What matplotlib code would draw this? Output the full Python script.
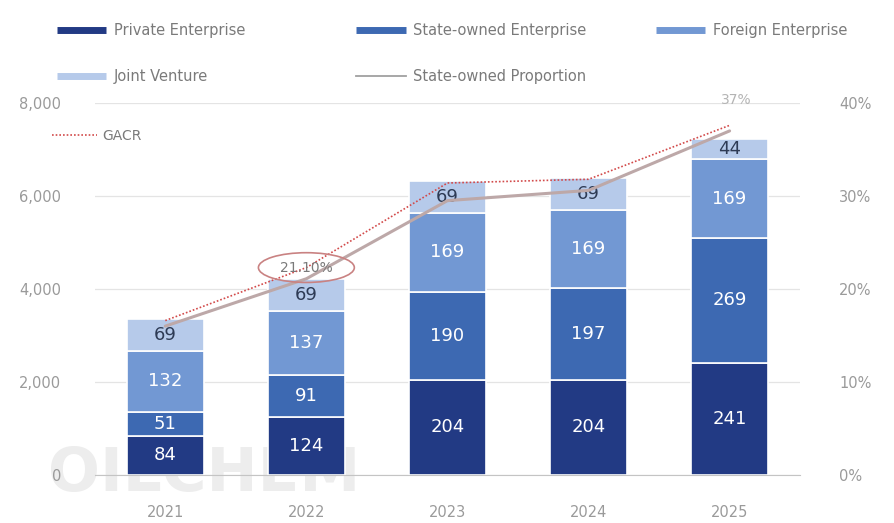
import numpy as np
import matplotlib
matplotlib.use("Agg")
import matplotlib.pyplot as plt
from matplotlib.lines import Line2D
from matplotlib.patches import Ellipse

# Data (segment labels, in hundreds; bars drawn at label x 10 on the left axis)
years = ["2021", "2022", "2023", "2024", "2025"]
private = [84, 124, 204, 204, 241]
state_owned = [51, 91, 190, 197, 269]
foreign = [132, 137, 169, 169, 169]
joint_venture = [69, 69, 69, 69, 44]
state_share = [16.0, 21.1, 29.5, 30.6, 37.0]      # % (right axis)
gacr = [16.6, 22.3, 31.4, 31.8, 37.6]             # % (right axis)
left_ticks = [0, 2000, 4000, 6000, 8000]
right_ticks = [0, 10, 20, 30, 40]
SCALE = 10

colors = {
    "Private Enterprise": "#223a84",
    "State-owned Enterprise": "#3d69b2",
    "Foreign Enterprise": "#7298d3",
    "Joint Venture": "#b6caea",
}
text_grey = "#7a7a7a"
tick_grey = "#9a9a9a"

plt.rcParams["font.family"] = ["DejaVu Sans"]

fig = plt.figure(figsize=(8.94, 5.23), dpi=100)
ax = fig.add_axes([0.106, 0.092, 0.789, 0.711])
ax2 = ax.twinx()

x = np.arange(len(years))
width = 0.55
series = [
    ("Private Enterprise", private, "white"),
    ("State-owned Enterprise", state_owned, "white"),
    ("Foreign Enterprise", foreign, "white"),
    ("Joint Venture", joint_venture, "#2e3b55"),
]
bottom = np.zeros(len(years))
for name, vals, tcol in series:
    h = np.array(vals, dtype=float) * SCALE
    ax.bar(x, h, width, bottom=bottom, color=colors[name],
           edgecolor="white", linewidth=1.2, zorder=2)
    for xi, b, hi, v in zip(x, bottom, h, vals):
        ax.text(xi, b + hi / 2, str(v), ha="center", va="center",
                fontsize=13, color=tcol, zorder=5)
    bottom += h

ax.set_xlim(-0.5, 4.5)
ax.set_ylim(0, 8000)
ax.set_yticks(left_ticks)
ax.set_yticklabels([f"{t:,}" for t in left_ticks])
ax.set_xticks(x)
ax.set_xticklabels(years)
ax.tick_params(axis="y", length=0, pad=24, labelsize=10.5, labelcolor=tick_grey)
ax.tick_params(axis="x", length=0, pad=22, labelsize=10.5, labelcolor=tick_grey)
ax.grid(axis="y", color="#e4e4e4", linewidth=0.9, zorder=0)
ax.set_axisbelow(True)
for s in ["top", "left", "right"]:
    ax.spines[s].set_visible(False)
ax.spines["bottom"].set_color("#c4c4c4")

# Faint watermark behind the axis labels and bars
ax.text(-0.83, 0, "OILCHEM", fontsize=44, fontweight="bold",
        color="#ededed", ha="left", va="center", zorder=0.3, clip_on=False)

# Right axis: proportion lines
ax2.set_ylim(0, 40)
ax2.set_yticks(right_ticks)
ax2.set_yticklabels([f"{t}%" for t in right_ticks])
ax2.tick_params(axis="y", length=0, pad=28, labelsize=10.5, labelcolor=tick_grey)
for s in ax2.spines.values():
    s.set_visible(False)
ax2.plot(x, state_share, color="#bda8a8", linewidth=2.2, zorder=6,
         solid_capstyle="round")
ax2.plot(x, gacr, color="#d24a4a", linewidth=1.2, linestyle=(0, (1, 1.2)),
         zorder=7)

# Highlighted 2022 value
ax2.add_patch(Ellipse((1, state_share[1] + 1.2), 0.68, 3.2, fill=False,
                      edgecolor="#c98282", linewidth=1.2, zorder=8))
ax2.text(1, state_share[1] + 1.2, f"{state_share[1]:.2f}%", ha="center",
         va="center", fontsize=10, color=text_grey, zorder=9)
ax2.text(4.05, 40.3, f"{state_share[4]:.0f}%", ha="center", va="center",
         fontsize=10, color="#b4b4b4", clip_on=False)

# Legend rows at the top
def handle(c):
    return Line2D([0], [0], color=c, linewidth=5, solid_capstyle="butt")

legend_cols = [
    (0.052, [handle(colors["Private Enterprise"]), handle(colors["Joint Venture"])],
     ["Private Enterprise", "Joint Venture"]),
    (0.387, [handle(colors["State-owned Enterprise"]),
             Line2D([0], [0], color="#a0a0a0", linewidth=1.3)],
     ["State-owned Enterprise", "State-owned Proportion"]),
    (0.722, [handle(colors["Foreign Enterprise"])], ["Foreign Enterprise"]),
]
for xa, hs, ls in legend_cols:
    fig.legend(hs, ls, loc="upper left", bbox_to_anchor=(xa, 0.975),
               frameon=False, fontsize=10.5, handlelength=3.4,
               handletextpad=0.5, labelspacing=2.1, labelcolor=text_grey,
               borderaxespad=0.3)

ax.legend([Line2D([0], [0], color="#d24a4a", linewidth=1.2,
                  linestyle=(0, (1, 1.2)))], ["GACR"],
          loc="upper left", bbox_to_anchor=(-0.078, 0.965), frameon=False,
          fontsize=10, handlelength=3.2, handletextpad=0.4,
          labelcolor=text_grey)

fig.savefig("out.png", dpi=100, facecolor="white")
